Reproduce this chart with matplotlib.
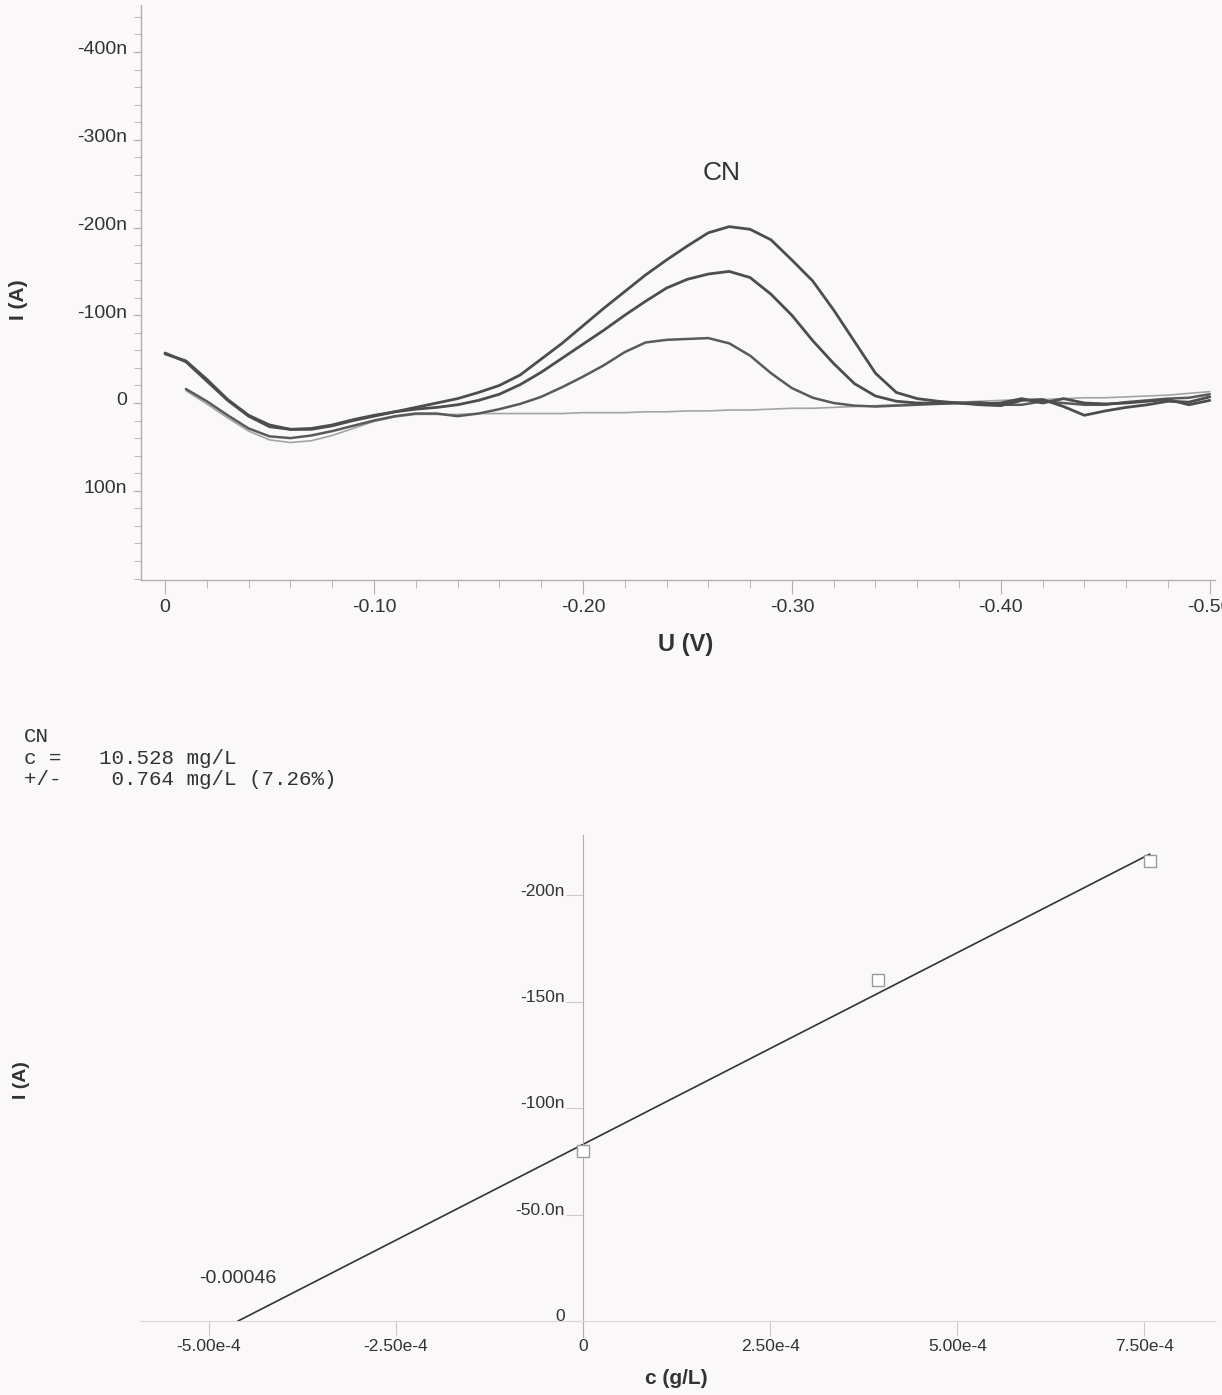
import numpy as np
import matplotlib
matplotlib.use("Agg")
import matplotlib.pyplot as plt
import matplotlib.transforms as mtransforms
from matplotlib.ticker import FixedLocator, MultipleLocator, FuncFormatter

# voltammogram: potential grid (V) and currents (nA) of the four scans
U = [0.00, -0.01, -0.02, -0.03, -0.04, -0.05, -0.06, -0.07, -0.08, -0.09,
     -0.10, -0.11, -0.12, -0.13, -0.14, -0.15, -0.16, -0.17, -0.18, -0.19,
     -0.20, -0.21, -0.22, -0.23, -0.24, -0.25, -0.26, -0.27, -0.28, -0.29,
     -0.30, -0.31, -0.32, -0.33, -0.34, -0.35, -0.36, -0.37, -0.38, -0.39,
     -0.40, -0.41, -0.42, -0.43, -0.44, -0.45, -0.46, -0.47, -0.48, -0.49,
     -0.50]

scan_add2 = [-56, -48, -27, -4, 14, 25, 30, 30, 26, 20,
             15, 10, 5, 0, -5, -12, -20, -32, -50, -68,
             -88, -108, -127, -146, -163, -179, -194, -201, -198, -186,
             -163, -139, -106, -70, -34, -12, -5, -2, 0, 2,
             3, -3, -4, 4, 14, 9, 5, 2, -2, -1,
             -7]

scan_add1 = [-57, -47, -25, -3, 15, 27, 30, 29, 25, 19,
             14, 10, 7, 5, 2, -3, -10, -21, -35, -51,
             -67, -83, -100, -116, -131, -141, -147, -150, -143, -124,
             -100, -71, -45, -22, -8, -2, 0, 0, 0, 1,
             0, -5, 0, -5, 0, 1, 0, -2, -4, 2,
             -3]

scan_sample = [np.nan, -16, -2, 14, 29, 38, 40, 37, 32, 26,
               20, 15, 12, 12, 15, 12, 7, 1, -7, -18,
               -30, -43, -58, -69, -72, -73, -74, -68, -54, -34,
               -17, -6, 0, 3, 4, 3, 2, 1, 0, -1,
               2, 2, -2, 0, 2, 2, -1, -3, -5, -6,
               -10]

scan_blank = [np.nan, -14, 1, 17, 32, 42, 45, 43, 37, 29,
              21, 16, 13, 13, 13, 12, 12, 12, 12, 12,
              11, 11, 11, 10, 10, 9, 9, 8, 8, 7,
              6, 6, 5, 4, 3, 2, 1, 0, -1, -2,
              -3, -4, -4, -5, -6, -6, -7, -8, -9, -11,
              -13]

# standard addition: concentration added (g/L) and peak current (nA)
conc_added = [0.0, 3.94e-4, 7.57e-4]
peak_current = [-80, -160, -216]

W, H = 1222, 1395
BG = "#fbf8fa"
AXC = "#b4acb4"
TXT = "#333333"

plt.rcParams["font.family"] = ["Liberation Sans", "DejaVu Sans"]

fig = plt.figure(figsize=(W / 100, H / 100), dpi=100, facecolor=BG)


def box(x0, y0, x1, y1):
    return [x0 / W, 1 - y1 / H, (x1 - x0) / W, (y1 - y0) / H]


def raise_labels(ax, pts):
    off = mtransforms.ScaledTranslation(0, pts / 72, fig.dpi_scale_trans)
    for lbl in ax.get_yticklabels():
        lbl.set_transform(lbl.get_transform() + off)


def nano(v, pos=None):
    if abs(v) < 1e-9:
        return "0"
    return f"{v:.0f}n"


# ---- top: voltammogram ----
ax1 = fig.add_axes(box(141, 5, 1215, 580))
ax1.set_facecolor("none")
line_kw = dict(solid_joinstyle="round", solid_capstyle="round")
ax1.plot(U, scan_blank, color="#a4a4a4", lw=1.2, **line_kw)
ax1.plot(U, scan_sample, color="#5a5a5a", lw=1.8, **line_kw)
ax1.plot(U, scan_add1, color="#4d4d4d", lw=2.0, **line_kw)
ax1.plot(U, scan_add2, color="#4d4d4d", lw=2.0, **line_kw)

ax1.set_xlim(0.0115, -0.5025)
ax1.set_ylim(201.7, -453.6)
for s in ["top", "right"]:
    ax1.spines[s].set_visible(False)
for s in ["left", "bottom"]:
    ax1.spines[s].set_color(AXC)
    ax1.spines[s].set_linewidth(1.0)

ax1.xaxis.set_major_locator(FixedLocator([0, -0.1, -0.2, -0.3, -0.4, -0.5]))
ax1.xaxis.set_minor_locator(MultipleLocator(0.02))
ax1.xaxis.set_major_formatter(FuncFormatter(lambda v, p: "0" if abs(v) < 1e-9 else f"{v:.2f}"))
ax1.yaxis.set_major_locator(FixedLocator([-400, -300, -200, -100, 0, 100]))
ax1.yaxis.set_minor_locator(MultipleLocator(20))
ax1.yaxis.set_major_formatter(FuncFormatter(nano))
ax1.tick_params(axis="x", which="major", length=10, pad=4, color=AXC,
                labelsize=14, labelcolor=TXT)
ax1.tick_params(axis="x", which="minor", length=6, color=AXC)
ax1.tick_params(axis="y", which="major", length=6, pad=4, color=AXC,
                labelsize=14, labelcolor=TXT)
ax1.tick_params(axis="y", which="minor", length=5, color=AXC)
raise_labels(ax1, 3)

ax1.text(-0.2666, -262, "CN", ha="center", va="center", fontsize=19, color=TXT)

fig.text(18 / W, 1 - 300 / H, "I (A)", rotation=90, ha="center", va="center",
         fontsize=15, fontweight="bold", color=TXT)
fig.text(686 / W, 1 - 645 / H, "U (V)", ha="center", va="center",
         fontsize=17, fontweight="bold", color=TXT)

# ---- result block ----
mono = ["Liberation Mono", "DejaVu Sans Mono"]
for i, line in enumerate(["CN", "c =   10.528 mg/L", "+/-    0.764 mg/L (7.26%)"]):
    fig.text(24 / W, 1 - (736 + 22 * i) / H, line, family=mono, fontsize=15,
             ha="left", va="center", color=TXT)

# ---- bottom: standard addition plot ----
ax2 = fig.add_axes(box(140, 835, 1215, 1337))
ax2.set_facecolor("none")

slope, icpt = np.polyfit(conc_added, peak_current, 1)
c_zero = -icpt / slope
fit_c = np.array([c_zero, conc_added[-1]])
ax2.plot(fit_c, slope * fit_c + icpt, color="#333333", lw=1.2)
ax2.plot(conc_added, peak_current, ls="none", marker="s", ms=9, mfc="white",
         mec="#9a9a9a", mew=1.0, clip_on=False, zorder=3)
ax2.text(c_zero, -20, "-0.00046", ha="center", va="center", fontsize=14, color=TXT)

ax2.set_xlim(-5.918e-4, 8.443e-4)
ax2.set_ylim(7.5, -228.2)
for s in ["top", "right"]:
    ax2.spines[s].set_visible(False)
ax2.spines["left"].set_position(("data", 0))
ax2.spines["bottom"].set_position(("data", 0))
ax2.spines["left"].set_color(AXC)
ax2.spines["bottom"].set_color("#ddd5dd")

ax2.xaxis.set_major_locator(FixedLocator([-5e-4, -2.5e-4, 0, 2.5e-4, 5e-4, 7.5e-4]))
ax2.xaxis.set_major_formatter(FuncFormatter(
    lambda v, p: "0" if abs(v) < 1e-12 else f"{v:.2e}".replace("e-04", "e-4")))
ax2.yaxis.set_major_locator(FixedLocator([-200, -150, -100, -50, 0]))
ax2.yaxis.set_major_formatter(FuncFormatter(
    lambda v, p: {-200: "-200n", -150: "-150n", -100: "-100n", -50: "-50.0n", 0: "0"}.get(int(round(v)), "")))
ax2.tick_params(axis="x", length=11, pad=2, color="#cfc7cf", labelsize=12.5, labelcolor=TXT)
ax2.tick_params(axis="y", length=12, pad=1, color="#cfc7cf", labelsize=12.5, labelcolor=TXT)
raise_labels(ax2, 4)

fig.text(22 / W, 1 - 1080 / H, "I (A)", rotation=90, ha="center", va="center",
         fontsize=14, fontweight="bold", color=TXT)
fig.text(676 / W, 1 - 1378 / H, "c (g/L)", ha="center", va="center",
         fontsize=15, fontweight="bold", color=TXT)

fig.savefig("out.png", dpi=100, facecolor=BG)
